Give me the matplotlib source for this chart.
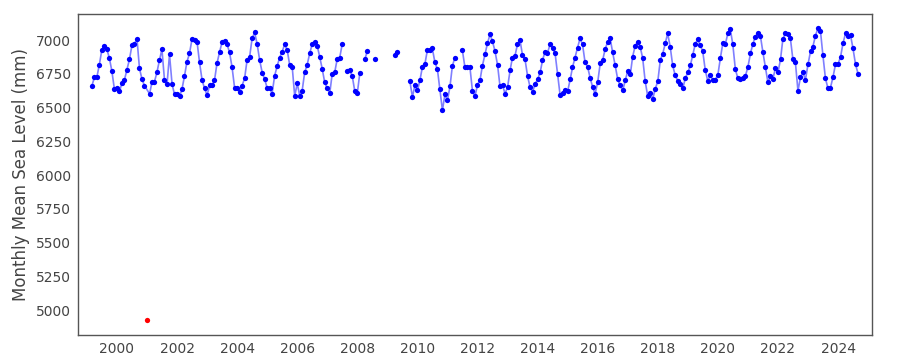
import numpy as np
import pandas as pd
import matplotlib
matplotlib.use("Agg")
import matplotlib.pyplot as plt
import matplotlib.dates as mdates

nan = np.nan

# monthly mean sea level (mm), one row per year, Jan..Dec
years = list(range(1999, 2025))
monthly_mm = [
    [nan, nan, 6657, 6723, 6723, 6817, 6926, 6955, 6931, 6867, 6768, 6637],  # 1999
    [6642, 6620, 6679, 6704, 6778, 6857, 6960, 6973, 7007, 6790, 6709, 6662],  # 2000
    [4925, 6602, 6686, 6691, 6760, 6852, 6931, 6704, 6672, 6894, 6674, 6597],  # 2001
    [6602, 6583, 6634, 6733, 6839, 6901, 7005, 6997, 6988, 6834, 6704, 6642],  # 2002
    [6593, 6664, 6664, 6701, 6827, 6909, 6983, 6995, 6968, 6909, 6797, 6647],  # 2003
    [6647, 6617, 6662, 6716, 6852, 6876, 7012, 7057, 6968, 6852, 6758, 6711],  # 2004
    [6642, 6647, 6602, 6736, 6805, 6871, 6913, 6968, 6926, 6815, 6800, 6585],  # 2005
    [6679, 6585, 6622, 6760, 6815, 6901, 6968, 6988, 6958, 6876, 6785, 6686],  # 2006
    [6642, 6610, 6746, 6760, 6857, 6869, 6968, nan, 6770, 6778, 6733, 6622],   # 2007
    [6605, 6758, nan, 6857, 6916, nan, nan, 6857, nan, nan, nan, nan],         # 2008
    [nan, nan, nan, 6887, 6911, nan, nan, nan, nan, 6696, 6578, 6664],         # 2009
    [6627, 6704, 6797, 6820, 6923, 6926, 6938, 6837, 6783, 6634, 6479, 6597],  # 2010
    [6553, 6657, 6805, 6871, nan, nan, 6926, 6800, 6800, 6800, 6622, 6583],    # 2011
    [6667, 6704, 6810, 6894, 6975, 7042, 6992, 6918, 6815, 6657, 6667, 6602],  # 2012
    [6652, 6778, 6871, 6884, 6968, 7000, 6889, 6857, 6733, 6652, 6617, 6674],  # 2013
    [6709, 6760, 6849, 6913, 6904, 6968, 6938, 6904, 6746, 6595, 6610, 6632],  # 2014
    [6620, 6709, 6797, 6871, 6943, 7012, 6968, 6834, 6802, 6721, 6652, 6602],  # 2015
    [6686, 6827, 6849, 6933, 6985, 7012, 6909, 6812, 6709, 6664, 6627, 6701],  # 2016
    [6770, 6746, 6876, 6958, 6985, 6950, 6867, 6694, 6583, 6605, 6565, 6639],  # 2017
    [6694, 6854, 6896, 6975, 7049, 6950, 6812, 6738, 6699, 6674, 6642, 6716],  # 2018
    [6760, 6812, 6886, 6970, 7005, 6963, 6918, 6778, 6696, 6741, 6701, 6706],  # 2019
    [6741, 6867, 6975, 6968, 7049, 7079, 6968, 6783, 6716, 6711, 6716, 6733],  # 2020
    [6803, 6901, 6970, 7025, 7053, 7033, 6913, 6798, 6686, 6732, 6715, 6790],  # 2021
    [6760, 6858, 7005, 7050, 7044, 7012, 6859, 6834, 6624, 6723, 6760, 6706],  # 2022
    [6820, 6918, 6950, 7032, 7086, 7071, 6889, 6716, 6642, 6647, 6726, 6820],  # 2023
    [6822, 6876, 6975, 7049, 7032, 7037, 6938, 6820, 6750, nan, nan, nan],     # 2024
]
outlier_months = ["2001-01-01"]
xtick_years = list(range(2000, 2025, 2))

dates = pd.date_range(f"{years[0]}-01-01", periods=12 * len(years), freq="MS")
sea = pd.Series(np.concatenate(monthly_mm), index=dates)
bad = pd.to_datetime(outlier_months)
good = sea.drop(bad)
# drop leading/trailing empty months so the line runs only over data
good = good.loc[good.first_valid_index():good.last_valid_index()]

fig = plt.figure(figsize=(9, 3.6), dpi=100)
ax = fig.add_axes([0.0867, 0.0694, 0.882, 0.8916])
ax.plot(good.index, good.values, color="blue", alpha=0.5, lw=1.2)
ax.plot(good.index, good.values, "o", color="blue", ms=3.8, mec="none")
ax.plot(bad, sea[bad].values, "o", color="red", ms=3.8, mec="none")

ax.set_xlim(pd.Timestamp("1998-09-15"), pd.Timestamp("2025-02-15"))
ax.set_ylim(4815, 7193)
ax.set_yticks(np.arange(5000, 7001, 250))
ax.set_xticks([pd.Timestamp(f"{y}-01-01") for y in xtick_years])
ax.xaxis.set_major_formatter(mdates.DateFormatter("%Y"))
ax.set_ylabel("Monthly Mean Sea Level (mm)", fontsize=12, color="#444444")
ax.tick_params(length=0, labelsize=10, labelcolor="#444444", pad=5)
for s in ax.spines.values():
    s.set_color("#555555")
    s.set_linewidth(1.0)

fig.savefig("out.png", dpi=100)
